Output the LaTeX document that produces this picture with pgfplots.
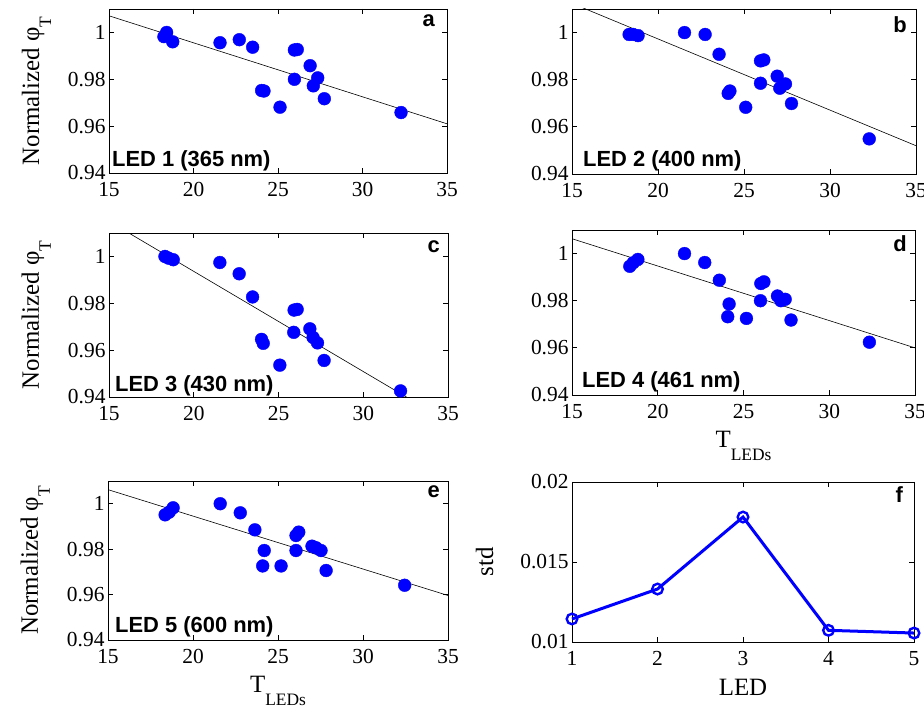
\documentclass[border=0pt]{standalone}
\usepackage{fontspec}
\setmainfont{Liberation Serif}
\newfontfamily\arialf{Liberation Sans}
\usepackage{pgfplots}
\pgfplotsset{compat=1.18}
\definecolor{mblue}{RGB}{0,0,255}
\newcommand{\labfont}{\fontsize{25}{28}\selectfont}
\newcommand{\TLED}{T\raisebox{-13bp}{\fontsize{17.5}{18}\selectfont LEDs}}
\newcommand{\NPhi}{Normalized φ\raisebox{-12bp}{\fontsize{17.5}{18}\selectfont T}}
\pgfplotsset{
  panelbase/.style={
    scale only axis, anchor=south west,
    tick align=inside, major tick length=5bp,
    axis line style={line width=0.8bp},
    every tick/.style={black,line width=0.8bp},
    tick label style={font=\fontsize{21.5}{24}\selectfont},
    xticklabel style={yshift=-6bp},
    /pgf/number format/assume math mode=true,
    label style={font=\labfont},
    scaled ticks=false,
  },
  panel/.style={
    panelbase,
    xmin=15,xmax=35,ymin=0.94,ymax=1.01,
    xtick={15,20,25,30,35},
    ytick={0.94,0.96,0.98,1},
    yticklabels={0.94,0.96,0.98,1},
  },
  dots/.style={only marks, mark=*, mark size=6.4bp, mark options={draw=mblue,fill=mblue}},
  fit/.style={black, line width=0.6bp, no marks},
}
\newcommand{\ledlab}[3]{\node[anchor=base west,font=\arialf\bfseries\fontsize{22}{24}\selectfont,inner sep=0pt] at ([xshift=#1bp,yshift=#2bp]rel axis cs:0,0) {#3};}
\newcommand{\letlab}[3]{\node[anchor=base east,font=\arialf\bfseries\fontsize{22}{24}\selectfont,inner sep=0pt] at ([xshift=-#1bp,yshift=-#2bp]rel axis cs:1,1) {#3};}
\begin{document}
\begin{tikzpicture}
\useasboundingbox (0bp,0bp) rectangle (924bp,711bp);
% a
\begin{axis}[panel, at={(109bp,538bp)}, width=338bp, height=164bp,
  ylabel={\NPhi}, ylabel style={at={(axis description cs:-0.207,0.5)},anchor=base}]
\addplot[fit] coordinates {(15,1.0071) (35,0.9610)};
\addplot[dots] table {
18.41 1.0000
18.25 0.9982
18.77 0.9960
21.57 0.9956
22.71 0.9969
23.50 0.9937
24.03 0.9752
24.17 0.9750
25.12 0.9681
25.97 0.9925
26.14 0.9927
25.97 0.9800
26.90 0.9858
27.35 0.9806
27.09 0.9772
27.74 0.9717
32.28 0.9658
};
\ledlab{3}{6}{LED 1 (365 nm)}
\letlab{12}{17}{a}
\end{axis}
% b
\begin{axis}[panel, at={(572bp,537bp)}, width=344bp, height=165bp]
\addplot[fit] coordinates {(15,1.0124) (35,0.9520)};
\addplot[dots] table {
18.32 0.9992
18.55 0.9992
18.84 0.9987
21.54 1.0000
22.74 0.9992
23.55 0.9908
24.08 0.9742
24.18 0.9752
25.10 0.9683
25.96 0.9880
26.15 0.9884
25.96 0.9785
26.93 0.9815
27.41 0.9782
27.08 0.9764
27.76 0.9699
32.28 0.9549
};
\ledlab{11}{7}{LED 2 (400 nm)}
\letlab{9}{23}{b}
\end{axis}
% c
\begin{axis}[panel, at={(109bp,314bp)}, width=339bp, height=164bp,
  ylabel={\NPhi}, ylabel style={at={(axis description cs:-0.207,0.5)},anchor=base}]
\addplot[fit] coordinates {(15,1.0150) (35,0.9295)};
\addplot[dots] table {
18.30 1.0000
18.50 0.9993
18.79 0.9986
21.54 0.9974
22.68 0.9926
23.47 0.9827
24.00 0.9646
24.10 0.9629
25.08 0.9536
25.92 0.9771
26.10 0.9774
25.90 0.9676
26.85 0.9691
27.30 0.9631
27.04 0.9654
27.69 0.9556
32.20 0.9426
};
\ledlab{6}{5}{LED 3 (430 nm)}
\letlab{8}{19}{c}
\end{axis}
% d
\begin{axis}[panel, at={(572bp,316bp)}, width=343bp, height=165bp,
  xlabel={\TLED}, xlabel style={at={(axis description cs:0.5,-0.321)},anchor=base}]
\addplot[fit] coordinates {(15,1.0063) (35,0.9600)};
\addplot[dots] table {
18.37 0.9946
18.57 0.9961
18.84 0.9975
21.56 1.0000
22.74 0.9962
23.59 0.9887
24.16 0.9786
24.08 0.9732
25.17 0.9725
26.01 0.9873
26.19 0.9880
25.99 0.9800
26.98 0.9820
27.43 0.9806
27.18 0.9800
27.77 0.9718
32.34 0.9624
};
\ledlab{10}{7}{LED 4 (461 nm)}
\letlab{8}{21}{d}
\end{axis}
% e
\begin{axis}[panel, at={(108bp,71bp)}, width=340bp, height=159bp,
  ylabel={\NPhi}, ylabel style={at={(axis description cs:-0.206,0.5)},anchor=base},
  xlabel={\TLED}, xlabel style={at={(axis description cs:0.5,-0.333)},anchor=base}]
\addplot[fit] coordinates {(15,1.0062) (35,0.9596)};
\addplot[dots] table {
18.36 0.9951
18.60 0.9963
18.83 0.9982
21.60 1.0000
22.78 0.9960
23.64 0.9885
24.19 0.9794
24.10 0.9726
25.18 0.9726
26.06 0.9860
26.22 0.9875
26.06 0.9794
27.00 0.9813
27.53 0.9794
27.24 0.9806
27.83 0.9706
32.45 0.9641
};
\ledlab{7}{7}{LED 5 (600 nm)}
\letlab{8}{16}{e}
\end{axis}
% f
\begin{axis}[panelbase, at={(572bp,69bp)}, width=342bp, height=160bp,
  xmin=1,xmax=5,ymin=0.01,ymax=0.02,
  xtick={1,2,3,4,5}, ytick={0.01,0.015,0.02}, yticklabels={0.01,0.015,0.02},
  ylabel={std}, ylabel style={at={(axis description cs:-0.231,0.5)},anchor=base},
  xlabel={LED}, xlabel style={at={(axis description cs:0.5,-0.3375)},anchor=base},
  clip=false]
\addplot[mblue, line width=3bp, mark=o, mark size=5.3bp, mark options={line width=2.4bp}] coordinates {
(1,0.01144) (2,0.01331) (3,0.01781) (4,0.01073) (5,0.01056)};
\letlab{11}{21}{f}
\end{axis}
\end{tikzpicture}
\end{document}
